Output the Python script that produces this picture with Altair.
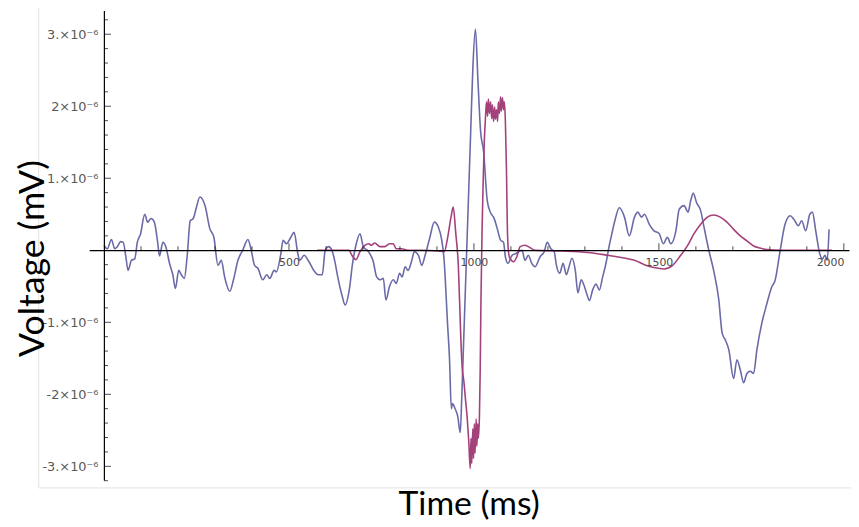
import altair as alt
import pandas as pd

# ---- data (time in ms, voltage in units of 1e-6) ----
blue_t = [0, 9, 20, 29, 36, 45, 52, 59, 65, 74, 83, 90, 99, 110, 118, 127, 136, 145, 150, 159,
          167, 177, 186, 193, 202, 209, 217, 225, 233, 241, 250, 259, 273, 286, 297, 308, 317, 326,
          340, 350, 362, 375, 389, 398, 407, 416, 429, 440, 448, 460, 466, 478, 484, 493, 505, 514,
          523, 529, 541, 554, 567, 579, 590, 598, 607, 616, 625, 630, 643, 652, 663, 672, 681, 692,
          701, 715, 728, 737, 746, 755, 762, 772, 782, 790, 799, 806, 814, 822, 831, 839, 850, 859,
          868, 880, 893, 904, 913, 920, 924, 928, 934, 939, 942, 949, 956, 963, 967, 973, 982, 991,
          997, 1004, 1011, 1018, 1026, 1036, 1045, 1054, 1063, 1072, 1080, 1085, 1092, 1103, 1112,
          1121, 1130, 1138, 1147, 1156, 1165, 1179, 1190, 1198, 1208, 1217, 1223, 1232, 1241, 1250,
          1256, 1265, 1274, 1281, 1290, 1297, 1306, 1312, 1321, 1330, 1339, 1348, 1357, 1366, 1372,
          1381, 1393, 1407, 1420, 1434, 1443, 1453, 1461, 1474, 1487, 1501, 1512, 1523, 1532, 1546,
          1555, 1568, 1579, 1586, 1593, 1602, 1613, 1622, 1635, 1648, 1662, 1671, 1680, 1689, 1702,
          1711, 1720, 1729, 1738, 1747, 1756, 1765, 1778, 1792, 1805, 1814, 1828, 1841, 1855, 1865,
          1877, 1886, 1897, 1908, 1915, 1924, 1935, 1942, 1949, 1955, 1960]
blue_v = [0.07, 0.02, 0.15, 0.02, 0.05, 0.12, 0.11, -0.09, -0.28, -0.14, -0.12, 0.11, 0.23, 0.50,
          0.39, 0.44, 0.39, 0.11, -0.08, 0.11, 0.05, -0.18, -0.34, -0.53, -0.28, -0.34, -0.39, -0.07,
          0.41, 0.44, 0.60, 0.74, 0.62, 0.30, 0.18, -0.21, -0.14, -0.37, -0.57, -0.41, -0.14, 0.00,
          0.15, 0.00, -0.21, -0.25, -0.41, -0.34, -0.39, -0.28, -0.30, -0.05, 0.14, 0.09, 0.18, 0.25,
          -0.02, -0.14, -0.07, -0.16, -0.28, -0.34, -0.34, 0.00, 0.05, 0.00, -0.18, -0.32, -0.62,
          -0.76, -0.55, -0.18, 0.07, 0.23, 0.05, -0.02, -0.16, -0.37, -0.41, -0.39, -0.69, -0.50,
          -0.41, -0.46, -0.32, -0.37, -0.23, -0.28, -0.16, -0.02, -0.07, -0.21, -0.07, 0.16, 0.39,
          0.32, 0.14, -0.18, -0.55, -0.96, -1.51, -2.20, -2.13, -2.20, -2.30, -2.53, -2.06, -1.14,
          0.23, 1.61, 2.52, 3.07, 2.34, 1.65, 1.38, 0.69, 0.52, 0.45, 0.30, 0.14, 0.11, -0.09, -0.18,
          -0.07, -0.05, -0.02, 0.00, -0.14, -0.07, -0.18, -0.23, -0.09, -0.02, 0.11, 0.02, -0.02,
          -0.21, -0.32, -0.18, -0.34, -0.25, -0.11, -0.28, -0.59, -0.41, -0.48, -0.62, -0.70, -0.55,
          -0.47, -0.55, -0.37, -0.18, 0.07, 0.21, 0.41, 0.59, 0.46, 0.20, 0.46, 0.53, 0.46, 0.50,
          0.36, 0.27, 0.23, 0.09, 0.18, 0.09, 0.27, 0.57, 0.62, 0.53, 0.69, 0.79, 0.66, 0.55, 0.32,
          0.00, -0.28, -0.69, -1.15, -1.25, -1.38, -1.78, -1.52, -1.66, -1.84, -1.71, -1.68, -1.71,
          -1.38, -1.02, -0.74, -0.51, -0.42, 0.00, 0.36, 0.48, 0.43, 0.34, 0.41, 0.27, 0.50, 0.53,
          0.27, -0.05, -0.12, -0.07, -0.14, 0.29]

mag_t = [576, 662, 670, 681, 692, 706, 715, 723, 732, 746, 759, 772, 782, 790, 804, 822, 857, 902,
         920, 929, 938, 944, 951, 958, 964, 968, 973, 977, 982, 986, 990, 992, 994, 997, 999, 1001,
         1003, 1006, 1008, 1010, 1012, 1015, 1017, 1019, 1022, 1025, 1028, 1031, 1034, 1037, 1039,
         1042, 1045, 1048, 1050, 1053, 1056, 1058, 1061, 1064, 1066, 1069, 1072, 1074, 1077, 1080,
         1082, 1085, 1088, 1090, 1093, 1097, 1107, 1116, 1125, 1138, 1147, 1165, 1237, 1308, 1362,
         1398, 1434, 1461, 1487, 1514, 1537, 1559, 1577, 1595, 1613, 1631, 1648, 1666, 1684, 1702,
         1720, 1738, 1756, 1774, 1792, 1835, 1968]
mag_v = [0.00, 0.00, -0.07, -0.13, -0.02, 0.07, 0.09, 0.07, 0.10, 0.05, 0.05, 0.09, 0.09, 0.02,
         0.02, 0.00, 0.00, -0.01, -0.02, 0.18, 0.46, 0.60, 0.23, -0.23, -1.14, -1.61, -1.83, -2.06,
         -2.34, -2.65, -3.03, -2.61, -2.96, -2.48, -2.89, -2.41, -2.82, -2.34, -2.72, -2.41, -2.61,
         -2.27, -1.65, -0.69, 0.28, 0.96, 1.51, 1.82, 2.06, 1.86, 2.10, 1.90, 2.06, 1.83, 2.02, 1.79,
         1.99, 1.82, 1.95, 1.79, 2.06, 1.90, 2.13, 1.93, 2.12, 1.95, 2.06, 1.79, 1.10, 0.41, 0.00,
         -0.11, -0.16, -0.09, 0.05, 0.07, 0.05, 0.00, -0.01, -0.03, -0.07, -0.10, -0.14, -0.20,
         -0.24, -0.26, -0.21, -0.07, 0.06, 0.23, 0.36, 0.46, 0.49, 0.46, 0.39, 0.29, 0.20, 0.13,
         0.06, 0.03, 0.01, 0.00, 0.00]

x_label_values = [500, 1000, 1500, 2000]
x_minor_ticks = [100, 200, 300, 400, 600, 700, 800, 900, 1100, 1200, 1300, 1400,
                 1600, 1700, 1800, 1900]
x_major_ticks = [500, 1000, 1500, 2000]
y_label_values = [3, 2, 1, -1, -2, -3]
y_label_texts = ["3.\u00d710\u207b\u2076", "2\u00d710\u207b\u2076", "1.\u00d710\u207b\u2076",
                 "-1.\u00d710\u207b\u2076", "-2\u00d710\u207b\u2076", "-3.\u00d710\u207b\u2076"]
y_minor_ticks = [-3.2, -2.8, -2.6, -2.4, -2.2, -1.8, -1.6, -1.4, -1.2, -0.8, -0.6, -0.4, -0.2,
                 0.2, 0.4, 0.6, 0.8, 1.2, 1.4, 1.6, 1.8, 2.2, 2.4, 2.6, 2.8, 3.2]
y_major_ticks = [-3, -2, -1, 1, 2, 3]

E = 1e-6
blue_df = pd.DataFrame({"t": blue_t, "v": [v * E for v in blue_v]})
mag_df = pd.DataFrame({"t": mag_t, "v": [v * E for v in mag_v]})
xminor_df = pd.DataFrame({"t": x_minor_ticks, "v": [0.0] * len(x_minor_ticks)})
xmajor_df = pd.DataFrame({"t": x_major_ticks, "v": [0.0] * len(x_major_ticks)})
yminor_df = pd.DataFrame({"t": [0.0] * len(y_minor_ticks), "v": [v * E for v in y_minor_ticks]})
ymajor_df = pd.DataFrame({"t": [0.0] * len(y_major_ticks), "v": [v * E for v in y_major_ticks]})

W, H = 767, 474
X0_PX = 14.8      # pixel position of t = 0 from the left of the plot
Y0_PX = 242       # pixel position of v = 0 from the top of the plot

label_expr = " : ".join(
    f"abs(datum.value - {v * E}) < 1e-8 ? '{s}'" for v, s in zip(y_label_values, y_label_texts)
) + " : ''"

x_scale = alt.Scale(domain=[-40, 2014], nice=False, zero=False)
y_scale = alt.Scale(domain=[-3.19e-6, 3.33e-6], nice=False, zero=False)

x_axis = alt.Axis(
    values=x_label_values, ticks=False, grid=False, offset=-(H - Y0_PX), format="d",
    domainColor="black", domainWidth=1.2, labelColor="#4a4a4a", labelFont="DejaVu Sans",
    labelFontSize=11, labelPadding=6, labelFlush=10, labelOverlap=False,
    title="Time (ms)", titleFont="Lato", titleFontSize=34, titleFontWeight="normal",
    titleColor="black", titleX=383, titleY=257, titleBaseline="middle", zindex=1,
)
y_axis = alt.Axis(
    values=[v * E for v in y_label_values], ticks=False, grid=False, offset=-X0_PX,
    domainColor="black", domainWidth=1.2, labelColor="#5a5a5a", labelFont="DejaVu Sans",
    labelFontSize=13, labelPadding=6, labelExpr=label_expr, labelOverlap=False,
    title="Voltage (mV)", titleFont="Lato", titleFontSize=36, titleFontWeight="normal",
    titleColor="black", titleX=-71.5, titleY=250, titleBaseline="middle", titleAngle=270,
    zindex=1,
)

def enc(chart):
    return chart.encode(
        x=alt.X("t:Q", scale=x_scale, axis=x_axis),
        y=alt.Y("v:Q", scale=y_scale, axis=y_axis),
    )

blue = enc(alt.Chart(blue_df).mark_line(color="#6a6aa8", strokeWidth=1.6, strokeJoin="round",
                                        interpolate="monotone"))
mag = enc(alt.Chart(mag_df).mark_line(color="#a3417a", strokeWidth=1.6, strokeJoin="round",
                                      interpolate="monotone"))
xminor = enc(alt.Chart(xminor_df).mark_tick(orient="vertical", size=4, thickness=1,
                                            color="black", yOffset=-2))
xmajor = enc(alt.Chart(xmajor_df).mark_tick(orient="vertical", size=7, thickness=1,
                                            color="black", yOffset=-3.5))
yminor = enc(alt.Chart(yminor_df).mark_tick(orient="horizontal", size=4, thickness=1,
                                            color="black", xOffset=2))
ymajor = enc(alt.Chart(ymajor_df).mark_tick(orient="horizontal", size=7, thickness=1,
                                            color="black", xOffset=3.5))

# faint frame of the embedded picture (left and bottom edges)
frame_left = alt.Chart().mark_rule(color="#e2e2e2", strokeWidth=1).encode(
    x=alt.value(-51), y=alt.value(-8), y2=alt.value(482))
frame_bottom = alt.Chart().mark_rule(color="#e2e2e2", strokeWidth=1).encode(
    x=alt.value(-51), x2=alt.value(W + 2), y=alt.value(482))

chart = alt.layer(frame_left, frame_bottom, blue, mag, xminor, xmajor, yminor, ymajor).properties(
    width=W, height=H,
    autosize=alt.AutoSizeParams(type="none"),
    padding={"left": 82, "top": 0, "right": 2, "bottom": 45},
).configure(background="white").configure_view(stroke=None)

chart.save("out.html", embed_options={"renderer": "svg", "actions": False})
